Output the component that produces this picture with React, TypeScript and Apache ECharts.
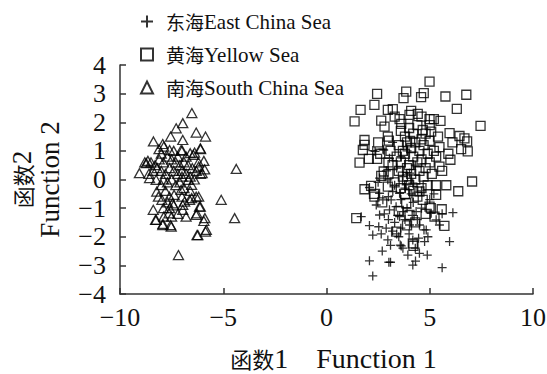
import React, { useEffect, useRef } from "react";
import * as echarts from "echarts";

const seriesNames = ["东海East China Sea", "黄海Yellow Sea", "南海South China Sea"];
const xTicks = { min: -10, max: 10, interval: 5 };
const yTicks = { min: -4, max: 4, interval: 1 };

const eastChinaSea: [number, number][] = [
  [2.24,-3.37],[2.08,-2.84],[3.02,-2.89],[3.1,-2.89],[4.18,-2.99],[4.31,-2.85],[5.6,-3.08],[3.94,-2.64],[4.5,-2.58],[4.88,-2.64],
  [5.96,-2.17],[3.57,-2.29],[2.24,-1.94],[2.65,-1.9],[2.97,-2.11],[2.08,-1.61],[2.53,-1.65],[2.89,-1.7],[4.02,-1.59],[4.5,-1.59],
  [4.83,-1.76],[4.91,-2.0],[4.75,-2.17],[4.18,-2.11],[6.12,-1.16],[5.47,-1.59],[5.07,-1.18],[5.31,-1.41],[1.68,-1.3],[2.57,-1.24],
  [3.05,-1.06],[3.54,-1.3],[3.37,-0.95],[3.7,-1.12],[4.34,-1.12],[2.73,-0.71],[3.13,-0.71],[2.41,-0.89],[2.57,-0.48],[3.21,-0.42],
  [3.54,-0.48],[2.24,1.01],[2.73,1.06],[3.05,0.74],[2.57,0.05],[2.97,-0.01],[2.08,-0.28],[3.86,-0.19],[4.18,-0.13],[3.7,0.1],
  [4.02,0.22],[3.62,-2.32],[4.46,-2.05],[4.72,-1.76],[2.35,0.98],[2.77,1.03],
  [3.3,-1.5],[3.6,-1.7],[3.8,-1.4],[4.0,-1.9],[3.4,-1.9],[3.9,-1.0],[4.2,-0.8],[3.6,-0.7],[3.0,-1.4],[2.8,-1.2],
  [3.2,-1.8],[3.5,-2.0],[4.4,-1.4],[4.6,-1.0],[5.0,-0.7],[4.1,-0.5],[3.8,-0.3],[3.3,-0.2],[2.9,0.3],[3.4,0.4],
  [3.6,0.8],[4.3,0.5],[3.9,1.0],[3.2,1.3],[4.6,-0.4],[5.2,-0.5],[5.6,-1.2],[2.5,-0.1],[3.0,-0.6],[3.7,-2.4],
  [4.3,-2.4],[3.1,-2.3],[2.7,-2.5],[3.45,-1.25],[4.15,-1.25]
];

const yellowSea: [number, number][] = [
  [4.99,3.42],[2.45,2.99],[3.86,3.07],[4.71,3.02],[5.76,2.9],[6.77,2.96],[3.73,2.84],[4.58,2.88],[2.32,2.61],[1.65,2.43],
  [6.31,2.47],[2.97,2.43],[3.21,2.46],[1.36,2.03],[4.02,2.26],[4.42,2.29],[7.46,1.87],[2.65,2.06],[3.54,2.11],[4.99,2.11],
  [5.52,2.05],[5.2,2.11],[2.81,1.85],[3.62,1.94],[4.66,1.73],[5.07,1.67],[5.96,1.62],[6.44,1.52],[6.68,1.44],[2.97,1.5],
  [1.84,1.38],[1.84,1.21],[3.02,1.36],[6.81,1.33],[4.99,1.35],[5.47,1.13],[6.52,1.06],[6.84,0.98],[1.76,1.03],[2.45,0.72],
  [2.05,0.72],[1.6,0.59],[6.0,0.69],[5.31,0.8],[5.47,0.45],[7.05,-0.07],[6.38,-0.41],[1.84,-0.34],[2.16,-0.22],[2.65,0.13],
  [2.77,0.28],[5.31,-0.54],[2.32,-0.6],[4.99,-0.95],[5.58,-1.04],[1.44,-1.35],[5.71,-1.62],[3.86,-0.83],[4.02,-1.24],[3.37,-1.82],
  [4.18,-2.23],[5.23,-1.3],[2.97,-0.25],[4.5,-0.42],[4.66,-0.71],[5.05,-1.0],[4.21,-2.32],
  [3.6,1.7],[3.8,1.5],[4.0,1.8],[4.2,1.6],[4.4,1.9],[4.6,1.4],[4.8,1.6],[3.5,1.2],[3.7,1.0],[3.9,1.3],
  [4.1,1.1],[4.3,1.3],[4.5,1.0],[4.7,1.2],[4.9,0.9],[3.4,0.8],[3.6,0.6],[3.8,0.9],[4.0,0.5],[4.2,0.8],
  [4.4,0.6],[4.6,0.7],[4.8,0.4],[5.0,0.6],[3.5,0.3],[3.7,0.1],[3.9,0.4],[4.1,0.2],[4.3,0.0],[4.5,0.3],
  [4.7,0.1],[4.9,-0.2],[5.1,0.2],[3.3,-0.1],[3.6,-0.3],[3.8,-0.5],[4.0,-0.2],[4.2,-0.4],[4.4,-0.6],[4.6,-0.3],
  [3.2,0.5],[3.1,1.0],[5.2,1.0],[5.4,1.5],[5.6,0.3],[5.3,-0.2],[3.0,0.2],[2.7,-0.8],[3.5,-1.1],[4.3,-1.5],
  [3.9,-1.6],[4.8,-1.2],[5.0,1.9],[3.3,2.2],[4.1,2.4],[4.6,2.2],[3.9,0.0],[4.05,1.35],[2.5,1.3],[2.3,-0.5],
  [5.8,-0.2],[6.1,1.3],[5.9,0.9],[3.0,0.6],[2.6,0.9]
];

const southChinaSea: [number, number][] = [
  [-6.52,2.32],[-6.96,1.97],[-7.28,1.79],[-6.31,1.64],[-5.86,1.5],[-7.55,1.5],[-6.96,1.38],[-8.38,1.33],[-7.93,1.24],[-8.11,1.06],
  [-7.6,1.03],[-6.1,1.06],[-6.99,1.01],[-6.6,0.92],[-6.39,0.94],[-8.65,0.65],[-8.73,0.57],[-5.94,0.65],[-9.06,0.22],[-4.37,0.37],
  [-8.57,0.05],[-8.25,-0.01],[-5.1,-0.71],[-4.45,-1.35],[-8.39,-1.06],[-8.25,-1.41],[-7.93,-1.59],[-7.52,-1.65],[-6.27,-1.94],[-5.86,-1.82],
  [-7.17,-2.64],[-5.94,-1.45],[-6.31,-1.24],[-6.15,-0.95],[-6.63,-0.71],[-6.96,-0.89],[-6.96,-1.06],[-6.31,-0.6],
  [-7.88,1.15],[-7.04,1.03],[-6.45,0.86],[-6.11,1.09],[-6.19,0.45],[-6.02,0.22],[-6.7,-0.01],[-6.53,-0.19],[-7.04,-0.36],[-7.38,-0.54],
  [-6.53,-0.65],[-6.19,-0.6],[-6.87,-0.77],[-7.46,-0.83],[-6.11,-0.95],[-6.28,-1.18],[-5.89,-1.35],[-5.82,-1.76],[-6.23,-1.94],[-8.22,-0.42],
  [-8.14,-0.6],[-7.97,-0.71],[-8.28,-1.41],[-7.88,-1.3],[-7.92,-1.55],[-7.55,-1.59],[-7.63,-1.18],
  [-8.5,0.6],[-8.3,0.5],[-8.1,0.7],[-7.9,0.6],[-7.7,0.8],[-7.5,0.7],[-7.3,0.6],[-7.1,0.5],[-6.9,0.6],[-6.7,0.5],
  [-6.5,0.4],[-6.3,0.3],[-8.2,0.4],[-8.0,0.3],[-7.8,0.2],[-7.6,0.4],[-7.4,0.3],[-7.2,0.2],[-7.0,0.3],[-6.8,0.2],
  [-6.6,0.1],[-8.4,0.3],[-7.9,0.0],[-7.7,-0.1],[-7.5,0.0],[-7.3,-0.2],[-7.1,-0.1],[-6.9,-0.3],[-7.8,-0.4],[-7.6,-0.6],
  [-7.4,-0.9],[-7.7,-0.8],[-7.9,-1.0],[-7.2,-1.2],[-6.8,-1.3],[-7.5,-1.3],[-8.0,0.9],[-7.4,1.0],[-6.8,0.8],[-6.2,0.6],
  [-6.6,-0.4],[-7.0,-0.6],[-8.6,0.2],[-8.8,0.6],[-6.4,0.0],[-6.1,0.2],[-5.9,0.35],[-7.6,-1.0],[-8.0,-0.2],[-7.2,0.8],
  [-7.0,0.1]
];

const SERIF = "Liberation Serif";
const CJK = "Noto Sans CJK SC";
const PLUS = "path://M0,5L10,5M5,0L5,10";

const fmt = (v: number) => (v < 0 ? "\u2212" + Math.abs(v) : String(v));

const markerStyle = {
  color: "rgba(0,0,0,0)",
  borderColor: "#000",
  borderWidth: 1.3,
};

export default function App() {
  const ref = useRef<HTMLDivElement>(null);
  useEffect(() => {
    if (!ref.current) return;
    const chart = echarts.init(ref.current, null, { renderer: "svg" });
    const axisCommon = {
      axisLine: { show: true, onZero: false, lineStyle: { color: "#333", width: 1.5 } },
      axisTick: { show: true, inside: true, length: 6, lineStyle: { color: "#333", width: 1.5 } },
      splitLine: { show: false },
      axisLabel: {
        color: "#111",
        fontFamily: SERIF,
        fontSize: 26,
        formatter: fmt,
      },
    };
    const legendRich = {
      c: { fontFamily: CJK, fontSize: 19, color: "#111", padding: [0, 0, 0, 8] },
      l: { fontFamily: SERIF, fontSize: 21, color: "#111" },
    };
    chart.setOption({
      animation: false,
      backgroundColor: "#fff",
      grid: { left: 120, right: 14, top: 65, bottom: 80, outerBoundsMode: "none", containLabel: false },
      legend: {
        orient: "vertical",
        left: 135,
        top: 6,
        itemWidth: 12,
        itemHeight: 12,
        itemGap: 12,
        formatter: (n: string) => "{c|" + n.slice(0, 2) + "}{l|" + n.slice(2) + "}",
        textStyle: { fontFamily: SERIF, fontSize: 21, color: "#111", rich: legendRich },
        data: seriesNames,
      },
      xAxis: {
        type: "value",
        ...xTicks,
        ...axisCommon,
        axisLabel: { ...axisCommon.axisLabel, margin: 10 },
        name: "{c|函数}{l|1    Function 1}",
        nameLocation: "middle",
        nameGap: 50,
        nameTextStyle: {
          padding: [0, 0, 0, 14],
          rich: {
            c: { fontFamily: CJK, fontSize: 22, color: "#111" },
            l: { fontFamily: SERIF, fontSize: 28, color: "#111" },
          },
        },
      },
      yAxis: {
        type: "value",
        ...yTicks,
        ...axisCommon,
        axisLabel: { ...axisCommon.axisLabel, margin: 14 },
        name: "{c|函数}{l|2}\n{l|Function 2}",
        nameLocation: "middle",
        nameGap: 56,
        nameTextStyle: {
          rich: {
            c: { fontFamily: CJK, fontSize: 22, color: "#111", lineHeight: 28 },
            l: { fontFamily: SERIF, fontSize: 27, color: "#111", lineHeight: 28 },
          },
        },
      },
      series: [
        {
          name: seriesNames[0],
          type: "scatter",
          symbol: PLUS,
          symbolSize: 9,
          itemStyle: markerStyle,
          data: eastChinaSea,
        },
        {
          name: seriesNames[1],
          type: "scatter",
          symbol: "rect",
          symbolSize: 9,
          itemStyle: markerStyle,
          data: yellowSea,
        },
        {
          name: seriesNames[2],
          type: "scatter",
          symbol: "triangle",
          symbolSize: [10, 9],
          itemStyle: markerStyle,
          data: southChinaSea,
        },
      ],
    });
    return () => chart.dispose();
  }, []);
  return (
    <div
      ref={ref}
      style={{ position: "fixed", left: 0, top: 0, width: 547, height: 374, background: "#fff" }}
    />
  );
}
